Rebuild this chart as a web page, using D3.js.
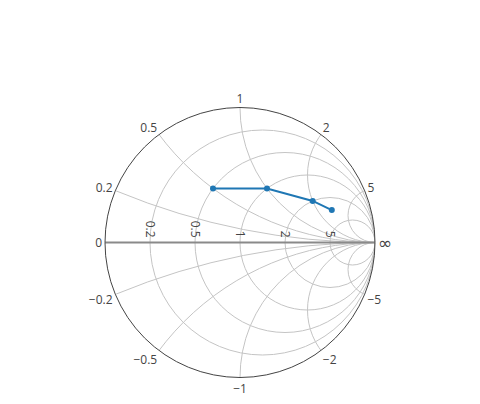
<!DOCTYPE html>
<html>
<head>
<meta charset="utf-8">
<script src="https://cdn.jsdelivr.net/npm/d3@7"></script>
<style>
  body { margin: 0; background: #fff; }
  text { font-family: "Open Sans", sans-serif; font-size: 12px; fill: #444; }
</style>
</head>
<body>
<div id="chart"></div>
<script>
// trace values (normalized impedance)
const realValues = [0.5, 1, 2, 3]
const imagValues = [0.5, 1, 2, 3]

// grid / tick values
const realTicks = [0.2, 0.5, 1, 2, 5]
const imagTicks = [0.2, 0.5, 1, 2, 5, -0.2, -0.5, -1, -2, -5]

const width = 480, height = 404
const cx = 240, cy = 242.5, R = 135

const svg = d3.select("#chart")
    .append("svg")
    .attr("width", width)
    .attr("height", height)

// reflection coefficient plane -> pixels
const xScale = d3.scaleLinear().domain([-1, 1]).range([cx - R, cx + R])
const yScale = d3.scaleLinear().domain([-1, 1]).range([cy + R, cy - R])
const rScale = d3.scaleLinear().domain([0, 1]).range([0, R])

// z -> gamma
function gamma(re, im) {
    const dr = (re + 1) * (re + 1) + im * im
    const nr = re * re - 1 + im * im
    const ni = 2 * im
    return [nr / dr, ni / dr]
}

svg.append("clipPath")
    .attr("id", "unit")
    .append("circle")
    .attr("cx", xScale(0))
    .attr("cy", yScale(0))
    .attr("r", rScale(1))

const grid = svg.append("g").attr("clip-path", "url(#unit)")

// constant resistance circles
grid.selectAll(".rgrid")
    .data(realTicks)
    .enter()
    .append("circle")
    .attr("cx", d => xScale(d / (1 + d)))
    .attr("cy", yScale(0))
    .attr("r", d => rScale(1 / (1 + d)))
    .attr("fill", "none")
    .attr("stroke", "#c4c4c4")
    .attr("stroke-width", 1)

// constant reactance arcs
grid.selectAll(".xgrid")
    .data(imagTicks)
    .enter()
    .append("circle")
    .attr("cx", xScale(1))
    .attr("cy", d => yScale(1 / d))
    .attr("r", d => rScale(1 / Math.abs(d)))
    .attr("fill", "none")
    .attr("stroke", "#c4c4c4")
    .attr("stroke-width", 1)

// real axis
svg.append("line")
    .attr("x1", xScale(-1))
    .attr("x2", xScale(1))
    .attr("y1", yScale(0))
    .attr("y2", yScale(0))
    .attr("stroke", "#8a8a8a")
    .attr("stroke-width", 2)

// outer circle
svg.append("circle")
    .attr("cx", xScale(0))
    .attr("cy", yScale(0))
    .attr("r", rScale(1))
    .attr("fill", "none")
    .attr("stroke", "#444")
    .attr("stroke-width", 1)

// real axis labels (rotated)
svg.selectAll(".rlabel")
    .data(realTicks)
    .enter()
    .append("text")
    .attr("transform", d => "translate(" + xScale((d - 1) / (d + 1)) + "," + (yScale(0) - 5) + ") rotate(90)")
    .attr("text-anchor", "end")
    .attr("dominant-baseline", "central")
    .text(d => d)

svg.append("text")
    .attr("x", xScale(-1) - 3)
    .attr("y", yScale(0))
    .attr("text-anchor", "end")
    .attr("dominant-baseline", "central")
    .text("0")

svg.append("text")
    .attr("x", xScale(1) + 3)
    .attr("y", yScale(0))
    .attr("text-anchor", "start")
    .attr("dominant-baseline", "central")
    .style("font-family", "'DejaVu Sans', sans-serif")
    .style("font-size", "17px")
    .text("\u221e")

// imaginary axis labels around the edge
svg.selectAll(".xlabel")
    .data(imagTicks)
    .enter()
    .append("text")
    .each(function(d) {
        const g = gamma(0, d)
        const px = xScale(g[0]), py = yScale(g[1])
        const rx = g[0], ry = -g[1]
        d3.select(this)
            .attr("x", px + rx * 3)
            .attr("y", py + ry * 10 + 5.5)
            .attr("text-anchor", Math.abs(rx) < 0.1 ? "middle" : (rx < 0 ? "end" : "start"))
    })
    .text(d => d < 0 ? "\u2212" + Math.abs(d) : d)

// data trace
const pts = realValues.map((re, i) => gamma(re, imagValues[i]))

const line = d3.line()
    .x(d => xScale(d[0]))
    .y(d => yScale(d[1]))

svg.append("path")
    .datum(pts)
    .attr("fill", "none")
    .attr("stroke", "#1f77b4")
    .attr("stroke-width", 2)
    .attr("d", line)

svg.selectAll(".pt")
    .data(pts)
    .enter()
    .append("circle")
    .attr("cx", d => xScale(d[0]))
    .attr("cy", d => yScale(d[1]))
    .attr("r", 3)
    .attr("fill", "#1f77b4")
</script>
</body>
</html>
